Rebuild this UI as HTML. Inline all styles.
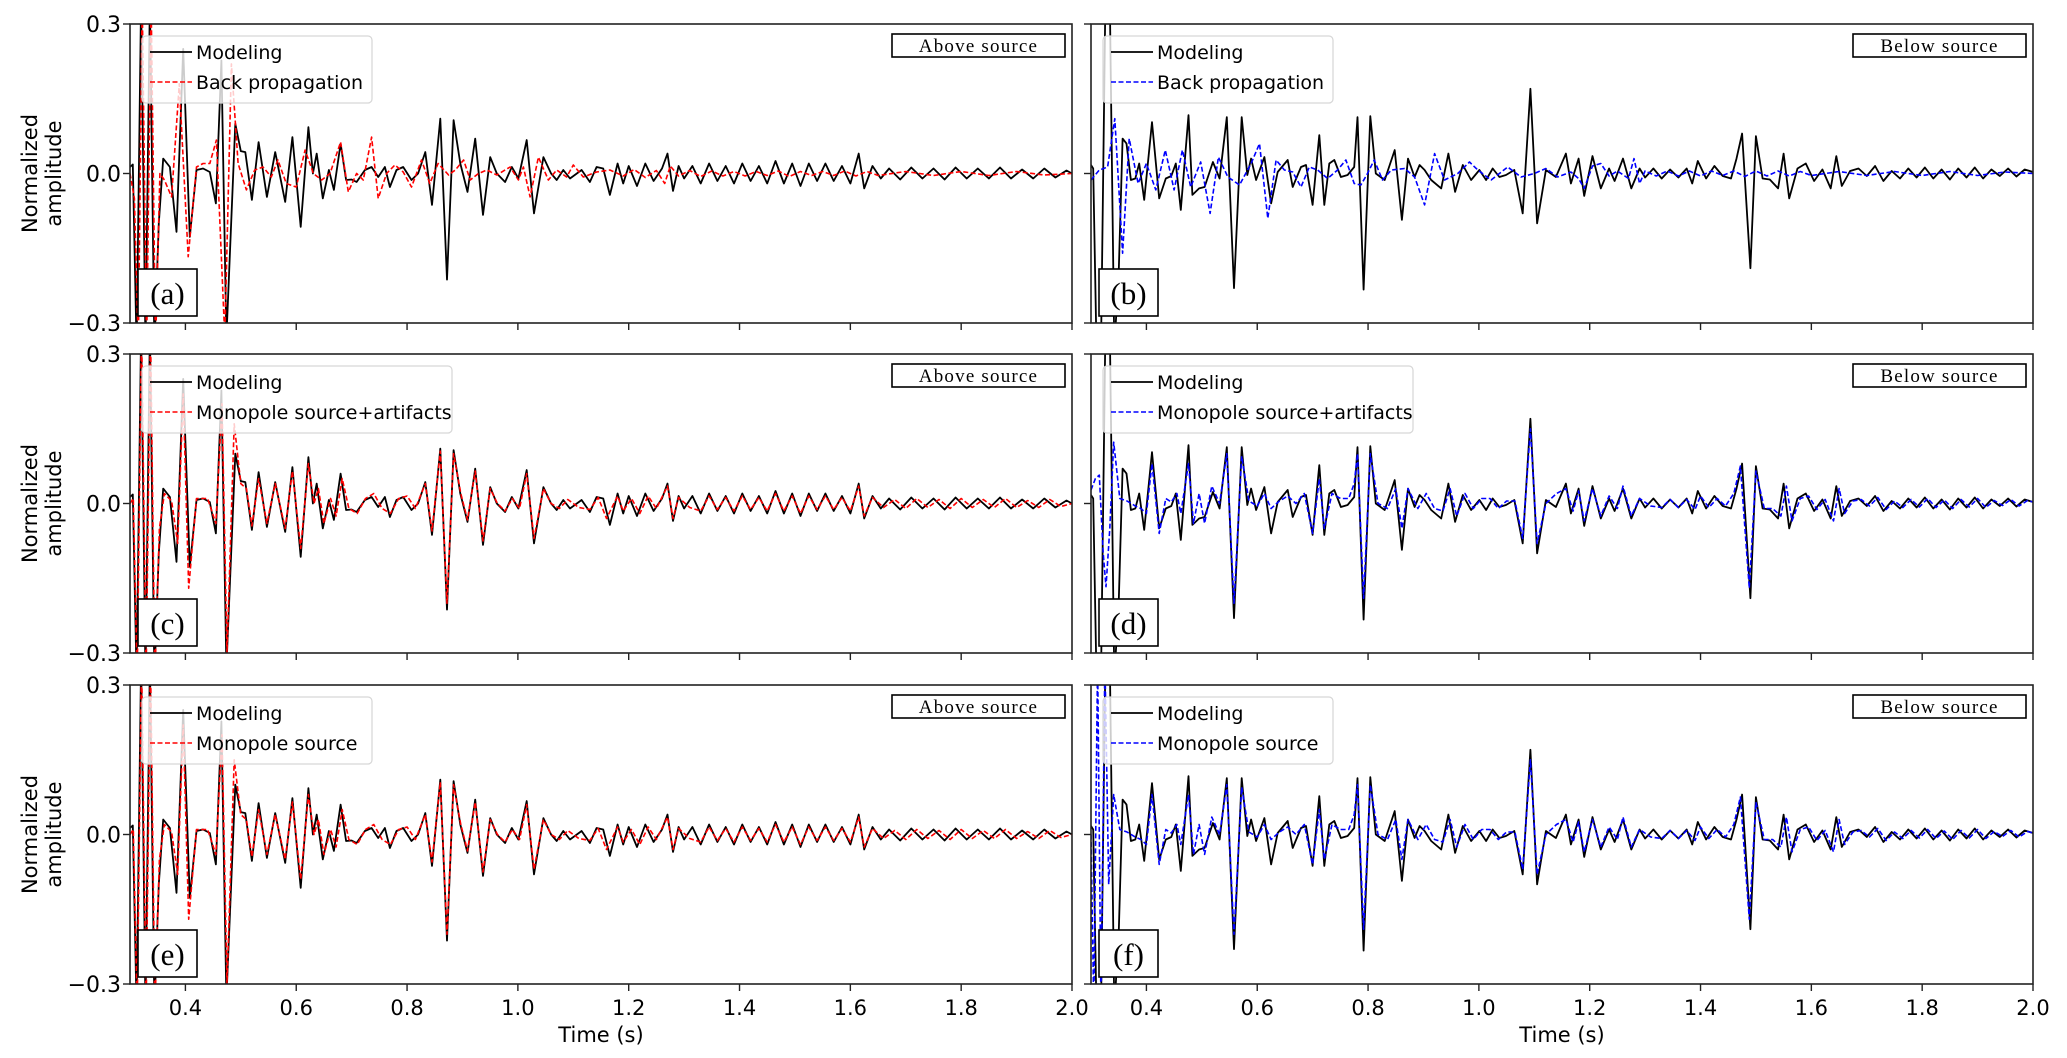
<!DOCTYPE html>
<html><head><meta charset="utf-8"><style>
html,body{margin:0;padding:0;background:#fff;}
svg{display:block;}
text{font-family:"DejaVu Sans","Liberation Sans",sans-serif;}
</style></head><body>
<svg id="fig" width="2067" height="1058" viewBox="0 0 2067 1058" xmlns="http://www.w3.org/2000/svg"></svg>
<script>
// ---- data (time s, normalized amplitude) ----
const modelingAbove = [[.300,.013],[.305,.018],[.312,-.35],[.320,.35],[.328,-.35],[.336,.35],[.344,-.35],[.352,-.1],[.360,.03],[.372,.013],[.384,-.117],[.396,.25],[.408,-.127],[.420,.007],[.432,.01],[.444,.003],[.455,-.06],[.465,.227],[.474,-.33],[.490,.10],[.500,.045],[.508,.043],[.520,-.053],[.532,.063],[.547,-.047],[.562,.043],[.580,-.057],[.593,.073],[.608,-.107],[.622,.093],[.630,0],[.637,.04],[.648,-.05],[.659,.007],[.668,-.033],[.680,.06],[.690,-.013],[.700,-.012],[.709,-.017],[.724,.007],[.736,.013],[.748,-.007],[.760,.013],[.769,-.027],[.781,.007],[.793,.013],[.808,-.013],[.820,0],[.833,.043],[.845,-.063],[.860,.11],[.872,-.213],[.884,.107],[.896,.02],[.909,-.037],[.923,.07],[.937,-.083],[.950,.033],[.962,0],[.977,-.017],[.989,.013],[1.001,-.01],[1.016,.067],[1.029,-.08],[1.046,.033],[1.060,0],[1.070,-.013],[1.082,.007],[1.094,-.01],[1.115,.007],[1.130,-.017],[1.142,.013],[1.154,.01],[1.166,-.043],[1.18,.02],[1.19,-.02],[1.20,.015],[1.215,-.025],[1.23,.02],[1.245,-.015],[1.26,.01],[1.27,.04],[1.28,-.035],[1.29,.015],[1.30,-.01],[1.315,.015],[1.33,-.02],[1.345,.02],[1.36,-.015],[1.375,.015],[1.39,-.02],[1.405,.02],[1.42,-.015],[1.435,.015],[1.45,-.02],[1.465,.025],[1.48,-.02],[1.495,.02],[1.51,-.025],[1.525,.02],[1.54,-.015],[1.555,.02],[1.57,-.015],[1.585,.015],[1.60,-.02],[1.615,.04],[1.625,-.03],[1.64,.015],[1.655,-.01],[1.67,.01],[1.69,-.012],[1.71,.012],[1.73,-.01],[1.75,.01],[1.77,-.012],[1.79,.012],[1.81,-.01],[1.83,.01],[1.85,-.01],[1.87,.012],[1.89,-.01],[1.91,.008],[1.93,-.01],[1.95,.01],[1.97,-.008],[1.99,.006],[2.0,0]];
const backPropAbove = [[.300,0],[.308,-.05],[.315,-.35],[.322,.35],[.330,-.35],[.338,.35],[.346,-.35],[.354,0],[.362,-.013],[.375,-.047],[.389,.18],[.405,-.167],[.420,.013],[.432,.02],[.444,.02],[.456,.067],[.471,-.33],[.483,.22],[.495,.02],[.510,-.033],[.525,.007],[.540,.013],[.555,-.007],[.567,.027],[.582,-.02],[.600,-.027],[.616,.047],[.631,0],[.646,-.013],[.661,0],[.680,.063],[.694,-.037],[.709,0],[.721,-.013],[.736,.073],[.748,-.05],[.763,0],[.778,.017],[.793,.003],[.808,-.027],[.826,.027],[.841,-.02],[.856,.02],[.875,-.003],[.887,.007],[.902,.027],[.914,-.013],[.929,0],[.944,.007],[.962,-.003],[.986,.013],[1.001,-.013],[1.010,.013],[1.022,-.047],[1.037,.033],[1.055,-.013],[1.070,.007],[1.088,-.007],[1.100,.017],[1.118,-.007],[1.142,.003],[1.166,.007],[1.19,-.005],[1.21,.008],[1.23,-.008],[1.25,.006],[1.265,-.02],[1.275,.015],[1.29,-.005],[1.31,.006],[1.33,-.006],[1.35,.005],[1.37,-.005],[1.39,.004],[1.41,-.005],[1.43,.004],[1.45,-.004],[1.47,.005],[1.49,-.006],[1.51,.004],[1.53,-.004],[1.55,.004],[1.57,-.004],[1.59,.005],[1.61,-.005],[1.63,.004],[1.65,-.004],[1.70,.004],[1.75,-.004],[1.80,.004],[1.85,-.004],[1.90,.004],[1.95,-.003],[2.0,0]];
const monoArtAbove = [[.300,0],[.306,.01],[.313,-.35],[.321,.35],[.329,-.35],[.337,.35],[.345,-.35],[.353,-.05],[.362,.02],[.375,.005],[.386,-.08],[.396,.22],[.406,-.17],[.420,.01],[.440,.01],[.455,-.04],[.466,.2],[.475,-.3],[.488,.16],[.500,.04],[.510,.03],[.520,-.045],[.532,.05],[.547,-.04],[.562,.04],[.580,-.05],[.593,.065],[.608,-.09],[.622,.08],[.632,0],[.640,.03],[.650,-.04],[.662,.01],[.672,-.025],[.683,.05],[.695,-.01],[.710,-.02],[.725,.01],[.740,.02],[.755,-.01],[.770,-.02],[.785,.01],[.800,.015],[.815,-.01],[.833,.04],[.845,-.055],[.860,.105],[.872,-.2],[.884,.1],[.897,.02],[.909,-.033],[.923,.065],[.937,-.075],[.950,.03],[.963,0],[.977,-.015],[.990,.01],[1.003,-.01],[1.016,.06],[1.029,-.07],[1.046,.03],[1.060,0],[1.075,-.01],[1.09,.008],[1.11,-.008],[1.13,-.012],[1.145,.012],[1.16,-.03],[1.18,.015],[1.19,-.015],[1.205,.01],[1.22,-.02],[1.235,.015],[1.25,-.01],[1.27,.035],[1.28,-.03],[1.29,.012],[1.31,-.008],[1.33,-.015],[1.345,.015],[1.36,-.012],[1.375,.012],[1.39,-.015],[1.405,.015],[1.42,-.012],[1.435,.012],[1.45,-.015],[1.465,.02],[1.48,-.015],[1.495,.015],[1.51,-.02],[1.525,.015],[1.54,-.012],[1.555,.015],[1.57,-.012],[1.585,.012],[1.60,-.015],[1.615,.035],[1.625,-.025],[1.64,.012],[1.66,-.008],[1.68,.008],[1.70,-.01],[1.72,.01],[1.74,-.008],[1.76,.008],[1.78,-.01],[1.80,.01],[1.82,-.008],[1.84,.008],[1.86,-.008],[1.88,.01],[1.90,-.008],[1.92,.006],[1.94,-.008],[1.96,.008],[1.98,-.006],[2.0,0]];
const monoAbove = [[.300,0],[.306,.01],[.313,-.35],[.321,.35],[.329,-.35],[.337,.35],[.345,-.35],[.353,-.05],[.362,.02],[.375,.005],[.386,-.08],[.396,.22],[.406,-.17],[.420,.01],[.440,.01],[.455,-.04],[.466,.2],[.475,-.3],[.488,.15],[.500,.04],[.510,.03],[.520,-.045],[.532,.05],[.547,-.04],[.562,.04],[.580,-.05],[.593,.065],[.608,-.09],[.622,.08],[.632,0],[.640,.03],[.650,-.04],[.662,.01],[.672,-.025],[.683,.05],[.695,-.01],[.710,-.02],[.725,.01],[.740,.02],[.755,-.01],[.770,-.02],[.785,.01],[.800,.015],[.815,-.01],[.833,.04],[.845,-.055],[.860,.105],[.872,-.2],[.884,.1],[.897,.02],[.909,-.033],[.923,.065],[.937,-.075],[.950,.03],[.963,0],[.977,-.015],[.990,.01],[1.003,-.01],[1.016,.06],[1.029,-.07],[1.046,.03],[1.060,0],[1.075,-.01],[1.09,.008],[1.11,-.008],[1.13,-.012],[1.145,.012],[1.16,-.03],[1.18,.015],[1.19,-.015],[1.205,.01],[1.22,-.02],[1.235,.015],[1.25,-.01],[1.27,.035],[1.28,-.03],[1.29,.012],[1.31,-.008],[1.33,-.015],[1.345,.015],[1.36,-.012],[1.375,.012],[1.39,-.015],[1.405,.015],[1.42,-.012],[1.435,.012],[1.45,-.015],[1.465,.02],[1.48,-.015],[1.495,.015],[1.51,-.02],[1.525,.015],[1.54,-.012],[1.555,.015],[1.57,-.012],[1.585,.012],[1.60,-.015],[1.615,.035],[1.625,-.025],[1.64,.012],[1.66,-.008],[1.68,.008],[1.70,-.01],[1.72,.01],[1.74,-.008],[1.76,.008],[1.78,-.01],[1.80,.01],[1.82,-.008],[1.84,.008],[1.86,-.008],[1.88,.01],[1.90,-.008],[1.92,.006],[1.94,-.008],[1.96,.008],[1.98,-.006],[2.0,0]];
const modelingBelow = [[.300,.017],[.304,.01],[.310,-.35],[.318,-.35],[.326,.35],[.334,.35],[.342,-.35],[.350,-.2],[.357,.07],[.364,.06],[.372,-.013],[.380,-.01],[.387,.02],[.396,-.053],[.410,.103],[.423,-.05],[.435,-.01],[.445,-.005],[.453,.02],[.462,-.073],[.476,.117],[.483,-.043],[.495,-.03],[.505,-.027],[.520,.023],[.532,-.01],[.545,.113],[.558,-.23],[.572,.113],[.582,-.003],[.589,.03],[.598,-.013],[.613,.033],[.625,-.06],[.637,.003],[.655,.027],[.664,-.027],[.679,.013],[.688,.017],[.700,-.063],[.712,.077],[.721,-.063],[.730,.02],[.739,.027],[.751,-.007],[.763,-.003],[.775,.013],[.781,.113],[.792,-.233],[.804,.115],[.814,0],[.830,-.013],[.848,.047],[.861,-.093],[.872,.03],[.884,-.007],[.893,.017],[.902,.007],[.914,-.013],[.932,-.03],[.945,.04],[.957,-.037],[.971,.017],[.986,-.013],[1.001,.007],[1.013,-.013],[1.025,.01],[1.037,-.007],[1.049,-.003],[1.064,.007],[1.079,-.08],[1.093,.17],[1.105,-.10],[1.121,.007],[1.139,-.007],[1.157,.04],[1.166,-.02],[1.18,.03],[1.19,-.045],[1.205,.035],[1.22,-.03],[1.235,.01],[1.245,-.015],[1.26,.03],[1.275,-.03],[1.29,.01],[1.30,-.008],[1.315,.01],[1.33,-.01],[1.345,.008],[1.36,-.008],[1.375,.01],[1.385,-.02],[1.395,.025],[1.41,-.01],[1.425,.015],[1.44,-.005],[1.455,-.01],[1.465,.03],[1.475,.08],[1.490,-.19],[1.500,.075],[1.512,-.01],[1.525,-.012],[1.54,-.03],[1.55,.04],[1.56,-.05],[1.575,.01],[1.59,.02],[1.605,-.015],[1.62,.008],[1.635,-.03],[1.645,.035],[1.655,-.025],[1.67,.005],[1.685,.01],[1.70,-.005],[1.715,.015],[1.73,-.015],[1.745,.005],[1.76,-.01],[1.775,.01],[1.79,-.008],[1.805,.012],[1.82,-.01],[1.835,.008],[1.85,-.012],[1.865,.01],[1.88,-.008],[1.895,.012],[1.91,-.01],[1.925,.008],[1.94,-.005],[1.955,.01],[1.97,-.006],[1.985,.008],[2.0,.003]];
const backPropBelow = [[.300,-.013],[.315,.007],[.330,.013],[.343,.11],[.357,-.16],[.369,.07],[.385,-.02],[.400,.02],[.417,-.033],[.434,.047],[.450,-.033],[.465,.047],[.480,-.027],[.498,.023],[.515,-.08],[.530,.033],[.547,-.007],[.568,-.023],[.589,.02],[.604,.06],[.619,-.09],[.634,.027],[.649,.007],[.664,.003],[.679,-.027],[.694,.013],[.709,.007],[.727,-.01],[.745,.007],[.760,.027],[.775,-.02],[.787,-.023],[.799,0],[.811,.027],[.826,-.013],[.842,.007],[.866,.01],[.884,-.007],[.902,-.063],[.920,.04],[.938,-.013],[.962,0],[.983,.023],[.998,.007],[1.022,-.013],[1.052,.013],[1.076,-.007],[1.100,0],[1.121,.01],[1.142,-.007],[1.166,.003],[1.18,-.01],[1.19,-.03],[1.205,.015],[1.22,.02],[1.235,-.005],[1.25,.005],[1.27,-.01],[1.28,.03],[1.29,-.02],[1.30,.005],[1.32,-.005],[1.34,.005],[1.36,-.005],[1.38,.005],[1.40,-.005],[1.42,.005],[1.44,-.004],[1.46,.005],[1.48,-.006],[1.50,.005],[1.52,-.005],[1.54,.005],[1.56,-.005],[1.58,.004],[1.60,-.004],[1.65,.004],[1.70,-.004],[1.75,.004],[1.80,-.004],[1.85,.004],[1.90,-.004],[1.95,.003],[2.0,0]];
const monoArtBelow = [[.300,.027],[.308,.05],[.315,.057],[.322,-.1],[.327,-.167],[.334,-.05],[.341,.123],[.352,.01],[.365,.005],[.380,-.005],[.390,-.01],[.400,-.02],[.410,.08],[.423,-.06],[.435,.01],[.445,.003],[.455,.02],[.462,-.02],[.476,.08],[.485,-.04],[.495,.02],[.505,-.04],[.518,.035],[.532,0],[.545,.1],[.558,-.20],[.572,.095],[.585,.005],[.600,-.005],[.613,.02],[.625,-.01],[.640,.005],[.655,.015],[.670,0],[.685,.02],[.700,-.06],[.712,.05],[.721,-.05],[.735,.02],[.750,.01],[.765,.01],[.775,.04],[.781,.10],[.792,-.19],[.804,.10],[.818,0],[.835,-.01],[.850,.03],[.861,-.05],[.872,.03],[.890,-.01],[.905,.02],[.920,-.01],[.935,-.015],[.948,.03],[.960,-.025],[.975,.02],[.990,-.01],[1.005,.01],[1.020,.01],[1.035,-.01],[1.050,.005],[1.065,.005],[1.079,-.07],[1.093,.15],[1.105,-.08],[1.121,0],[1.140,.02],[1.157,.03],[1.170,-.015],[1.18,.025],[1.19,-.035],[1.205,.03],[1.22,-.025],[1.235,.015],[1.25,-.01],[1.26,.035],[1.275,-.025],[1.29,.01],[1.31,-.005],[1.33,-.008],[1.345,.008],[1.36,-.008],[1.375,.008],[1.39,-.012],[1.40,.015],[1.415,-.008],[1.43,.01],[1.445,-.005],[1.46,.02],[1.472,.075],[1.488,-.17],[1.500,.065],[1.515,-.01],[1.53,-.01],[1.545,-.025],[1.555,.035],[1.565,-.035],[1.58,.01],[1.595,.015],[1.61,-.012],[1.625,.008],[1.64,-.035],[1.65,.03],[1.66,-.02],[1.675,.005],[1.69,.008],[1.705,-.005],[1.72,.012],[1.735,-.012],[1.75,.005],[1.765,-.008],[1.78,.008],[1.795,-.007],[1.81,.01],[1.825,-.008],[1.84,.007],[1.855,-.01],[1.87,.008],[1.885,-.007],[1.90,.01],[1.915,-.008],[1.93,.006],[1.945,-.004],[1.96,.008],[1.975,-.005],[1.99,.006],[2.0,.003]];
const monoBelow = [[.300,0],[.305,-.35],[.312,.35],[.318,-.35],[.325,.35],[.332,-.1],[.341,.08],[.352,.01],[.365,.005],[.380,-.005],[.390,-.01],[.400,-.02],[.410,.08],[.423,-.06],[.435,.01],[.445,.003],[.455,.02],[.462,-.02],[.476,.08],[.485,-.04],[.495,.02],[.505,-.04],[.518,.035],[.532,0],[.545,.1],[.558,-.20],[.572,.095],[.585,.005],[.600,-.005],[.613,.02],[.625,-.01],[.640,.005],[.655,.015],[.670,0],[.685,.02],[.700,-.06],[.712,.05],[.721,-.05],[.735,.02],[.750,.01],[.765,.01],[.775,.04],[.781,.10],[.792,-.19],[.804,.10],[.818,0],[.835,-.01],[.850,.03],[.861,-.05],[.872,.03],[.890,-.01],[.905,.02],[.920,-.01],[.935,-.015],[.948,.03],[.960,-.025],[.975,.02],[.990,-.01],[1.005,.01],[1.020,.01],[1.035,-.01],[1.050,.005],[1.065,.005],[1.079,-.07],[1.093,.15],[1.105,-.08],[1.121,0],[1.140,.02],[1.157,.03],[1.170,-.015],[1.18,.025],[1.19,-.035],[1.205,.03],[1.22,-.025],[1.235,.015],[1.25,-.01],[1.26,.035],[1.275,-.025],[1.29,.01],[1.31,-.005],[1.33,-.008],[1.345,.008],[1.36,-.008],[1.375,.008],[1.39,-.012],[1.40,.015],[1.415,-.008],[1.43,.01],[1.445,-.005],[1.46,.02],[1.472,.075],[1.488,-.17],[1.500,.065],[1.515,-.01],[1.53,-.01],[1.545,-.025],[1.555,.035],[1.565,-.035],[1.58,.01],[1.595,.015],[1.61,-.012],[1.625,.008],[1.64,-.035],[1.65,.03],[1.66,-.02],[1.675,.005],[1.69,.008],[1.705,-.005],[1.72,.012],[1.735,-.012],[1.75,.005],[1.765,-.008],[1.78,.008],[1.795,-.007],[1.81,.01],[1.825,-.008],[1.84,.007],[1.855,-.01],[1.87,.008],[1.885,-.007],[1.90,.01],[1.915,-.008],[1.93,.006],[1.945,-.004],[1.96,.008],[1.975,-.005],[1.99,.006],[2.0,.003]];
const xTickValues = [0.4,0.6,0.8,1.0,1.2,1.4,1.6,1.8,2.0];
const xTickLabels = ["0.4","0.6","0.8","1.0","1.2","1.4","1.6","1.8","2.0"];
const yTickValues = [0.3,0.0,-0.3];
const yTickLabels = ["0.3","0.0","\u22120.3"];
const panelLetters = ["(a)","(b)","(c)","(d)","(e)","(f)"];
const compLabels = ["Back propagation","Monopole source+artifacts","Monopole source"];

const NS="http://www.w3.org/2000/svg";
const svg=document.getElementById('fig');
function el(tag,attrs,parent){const e=document.createElementNS(NS,tag);for(const k in attrs)e.setAttribute(k,attrs[k]);(parent||svg).appendChild(e);return e;}
const X0=[130,1091], W=942, T0=[24,354,685], H=299, XMIN=0.3, XMAX=2.0, YMAX=0.3;
const comps=[[backPropAbove,backPropBelow],[monoArtAbove,monoArtBelow],[monoAbove,monoBelow]];
const models=[modelingAbove,modelingBelow];
const colors=["#ff0000","#0000ff"];
const sideNames=["Above source","Below source"];
const SERIF='font-family:"Liberation Serif","DejaVu Serif",serif';

for(let r=0;r<3;r++){
  for(let c=0;c<2;c++){
    const x0=X0[c], y0=T0[r];
    const xs=t=>x0+(t-XMIN)/(XMAX-XMIN)*W;
    const ys=v=>y0+H/2-v/YMAX*(H/2);
    const idx=r*2+c;
    const g=el('g',{});
    
    
    const cp=el('clipPath',{id:'cp'+idx},g);
    el('rect',{x:x0,y:y0,width:W,height:H},cp);
    const mk=(data,stroke,dash,w,name)=>{
      const d=data.map((p,i)=>(i?'L':'M')+xs(p[0]).toFixed(1)+' '+ys(p[1]).toFixed(1)).join('');
      const p=el('path',{d:d,fill:'none',stroke:stroke,'stroke-width':w,'clip-path':'url(#cp'+idx+')','stroke-linejoin':'round'},g);
      if(dash)p.setAttribute('stroke-dasharray',dash);
      
      
    };
    mk(models[c],'#000',null,1.8,'modeling-line');
    mk(comps[r][c],colors[c],'5,2.5',1.6,'comparison-line');
    const fr=el('rect',{x:x0,y:y0,width:W,height:H,fill:'none',stroke:'#222','stroke-width':1.6},g);
    
    
    xTickValues.forEach((t,i)=>{
      el('line',{x1:xs(t),x2:xs(t),y1:y0+H,y2:y0+H+7,stroke:'#222','stroke-width':1.4},g);
      if(r===2){
        const tl=el('text',{x:xs(t),y:y0+H+31,'font-size':21,'text-anchor':'middle',fill:'#000'},g);
        tl.textContent=xTickLabels[i];
        
        
      }
    });
    if(r===2){
      const xt=el('text',{x:x0+W/2,y:y0+H+58,'font-size':21,'text-anchor':'middle',fill:'#000'},g);
      xt.textContent='Time (s)';
      
      
    }
    yTickValues.forEach((v,i)=>{
      el('line',{x1:x0-7,x2:x0,y1:ys(v),y2:ys(v),stroke:'#222','stroke-width':1.4},g);
      if(c===0){
        const yl=el('text',{x:x0-9,y:ys(v)+8,'font-size':22,'text-anchor':'end',fill:'#000'},g);
        yl.textContent=yTickLabels[i];
        
        
      }
    });
    if(c===0){
      const yt=el('text',{transform:`translate(45 ${y0+H/2}) rotate(-90)`,'font-size':21,'text-anchor':'middle',fill:'#000'},g);
      
      
      const t1=el('tspan',{x:0,y:-8},yt); t1.textContent='Normalized';
      const t2=el('tspan',{x:0,y:16},yt); t2.textContent='amplitude';
    }
    const lw=r===1?310:230;
    const lg=el('g',{},g);
    
    
    el('rect',{x:x0+12,y:y0+12,width:lw,height:67,rx:4,fill:'rgba(255,255,255,0.8)',stroke:'#d6d6d6','stroke-width':1.2},lg);
    el('line',{x1:x0+20,x2:x0+62,y1:y0+28,y2:y0+28,stroke:'#000','stroke-width':1.8},lg);
    el('line',{x1:x0+20,x2:x0+62,y1:y0+58,y2:y0+58,stroke:colors[c],'stroke-width':1.6,'stroke-dasharray':'5,2.5'},lg);
    const le1=el('text',{x:x0+66,y:y0+35,'font-size':19,fill:'#000'},lg); le1.textContent='Modeling';
    
    
    const le2=el('text',{x:x0+66,y:y0+65,'font-size':19,fill:'#000'},lg); le2.textContent=compLabels[r];
    
    
    const sb=el('g',{},g);
    
    
    el('rect',{x:x0+W-180,y:y0+10,width:173,height:23,fill:'#fff',stroke:'#000','stroke-width':1.6},sb);
    const st=el('text',{x:x0+W-93.5,y:y0+28,'font-size':19,'text-anchor':'middle',style:SERIF+';letter-spacing:1.2px',fill:'#000'},sb);
    st.textContent=sideNames[c];
    const pb=el('g',{},g);
    
    
    el('rect',{x:x0+8,y:y0+245,width:59,height:47,fill:'#fff',stroke:'#000','stroke-width':1.6},pb);
    const pt=el('text',{x:x0+37.5,y:y0+280,'font-size':31,'text-anchor':'middle',style:SERIF,fill:'#000'},pb);
    pt.textContent=panelLetters[idx];
  }
}
</script>
</body></html>
